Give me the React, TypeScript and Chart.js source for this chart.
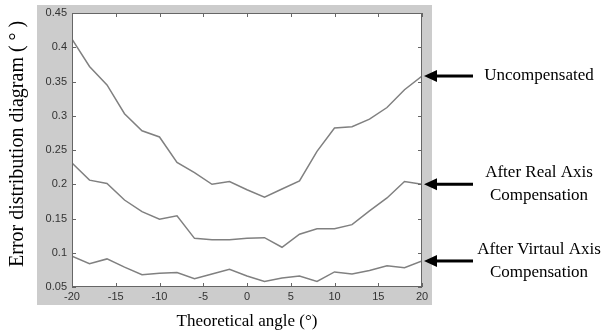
import React, { useEffect, useRef } from 'react';
import { Chart, registerables } from 'chart.js';

Chart.register(...registerables);

const angles = [-20, -18, -16, -14, -12, -10, -8, -6, -4, -2, 0, 2, 4, 6, 8, 10, 12, 14, 16, 18, 20];
const uncompensated = [0.412, 0.372, 0.345, 0.303, 0.278, 0.269, 0.232, 0.217, 0.2, 0.204, 0.192, 0.181, 0.193, 0.205, 0.248, 0.282, 0.284, 0.295, 0.312, 0.338, 0.358];
const realAxis = [0.231, 0.206, 0.201, 0.177, 0.16, 0.149, 0.154, 0.121, 0.119, 0.119, 0.121, 0.122, 0.108, 0.127, 0.135, 0.135, 0.141, 0.161, 0.18, 0.204, 0.2];
const virtualAxis = [0.095, 0.084, 0.091, 0.079, 0.068, 0.07, 0.071, 0.062, 0.069, 0.076, 0.066, 0.058, 0.063, 0.066, 0.058, 0.072, 0.069, 0.074, 0.081, 0.078, 0.088];

const xTicks = [-20, -15, -10, -5, 0, 5, 10, 15, 20];
const yTicks = [0.05, 0.1, 0.15, 0.2, 0.25, 0.3, 0.35, 0.4, 0.45];

const xTitle = 'Theoretical angle (°)';
const yTitle = 'Error distribution diagram ( ° )';

const labelUncomp = ['Uncompensated'];
const labelReal = ['After Real Axis', 'Compensation'];
const labelVirtual = ['After Virtaul Axis', 'Compensation'];

const W = 607;
const H = 335;

export default function App() {
  const ref = useRef<HTMLCanvasElement | null>(null);

  useEffect(() => {
    const canvas = ref.current;
    if (!canvas) return;

    const annotations = [
      { lines: labelUncomp, series: uncompensated },
      { lines: labelReal, series: realAxis },
      { lines: labelVirtual, series: virtualAxis },
    ];

    const decor = {
      id: 'decor',
      beforeDraw(chart: any) {
        const { ctx, chartArea } = chart;
        ctx.save();
        ctx.fillStyle = '#ffffff';
        ctx.fillRect(0, 0, W, H);
        ctx.fillStyle = '#cccccc';
        ctx.fillRect(37, 5, 395, 300);
        ctx.fillStyle = '#ffffff';
        ctx.fillRect(chartArea.left, chartArea.top, chartArea.right - chartArea.left, chartArea.bottom - chartArea.top);
        ctx.restore();
      },
      afterDraw(chart: any) {
        const { ctx, chartArea, scales } = chart;
        const { left, right, top, bottom } = chartArea;
        ctx.save();
        // box
        ctx.strokeStyle = '#666666';
        ctx.lineWidth = 1;
        ctx.strokeRect(left + 0.5, top + 0.5, right - left - 1, bottom - top - 1);
        // inward ticks
        const tl = 4;
        ctx.beginPath();
        xTicks.forEach((v) => {
          const x = Math.round(scales.x.getPixelForValue(v)) + 0.5;
          ctx.moveTo(x, bottom);
          ctx.lineTo(x, bottom - tl);
          ctx.moveTo(x, top);
          ctx.lineTo(x, top + tl);
        });
        yTicks.forEach((v) => {
          const y = Math.round(scales.y.getPixelForValue(v)) + 0.5;
          ctx.moveTo(left, y);
          ctx.lineTo(left + tl, y);
          ctx.moveTo(right, y);
          ctx.lineTo(right - tl, y);
        });
        ctx.stroke();

        // y title
        ctx.fillStyle = '#000000';
        ctx.font = '20px "Liberation Serif", serif';
        ctx.textAlign = 'left';
        ctx.textBaseline = 'middle';
        ctx.save();
        ctx.translate(18, 267);
        ctx.rotate(-Math.PI / 2);
        ctx.fillText(yTitle, 0, 0);
        ctx.restore();

        // annotations with arrows
        annotations.forEach((a) => {
          const yv = a.series[a.series.length - 1];
          const y = scales.y.getPixelForValue(yv);
          const tip = right + 2;
          ctx.fillStyle = '#000000';
          ctx.beginPath();
          ctx.moveTo(tip, y);
          ctx.lineTo(tip + 13, y - 6);
          ctx.lineTo(tip + 13, y + 6);
          ctx.closePath();
          ctx.fill();
          ctx.fillRect(tip + 12, y - 1.5, 37, 3);
          ctx.font = '17px "Liberation Serif", serif';
          ctx.textAlign = 'center';
          ctx.textBaseline = 'middle';
          const n = a.lines.length;
          a.lines.forEach((t, i) => {
            const off = (i - (n - 1) / 2) * 22.5;
            ctx.fillText(t, 539, y + off);
          });
        });
        ctx.restore();
      },
    };

    const chart = new Chart(canvas, {
      type: 'line',
      data: {
        datasets: [
          { label: 'Uncompensated', data: angles.map((a, i) => ({ x: a, y: uncompensated[i] })) },
          { label: 'After Real Axis Compensation', data: angles.map((a, i) => ({ x: a, y: realAxis[i] })) },
          { label: 'After Virtaul Axis Compensation', data: angles.map((a, i) => ({ x: a, y: virtualAxis[i] })) },
        ].map((d) => ({
          ...d,
          borderColor: '#808080',
          backgroundColor: '#808080',
          borderWidth: 1.5,
          pointRadius: 0,
          tension: 0,
          fill: false,
        })),
      },
      options: {
        responsive: false,
        animation: false,
        maintainAspectRatio: false,
        layout: { padding: { left: 0, top: 13, right: W - 422, bottom: 0 } },
        plugins: { legend: { display: false }, tooltip: { enabled: false } },
        scales: {
          x: {
            type: 'linear',
            min: -20,
            max: 20,
            afterBuildTicks: (s: any) => {
              s.ticks = xTicks.map((v) => ({ value: v }));
            },
            afterFit: (s: any) => {
              s.height = H - 287;
            },
            grid: { display: false, drawTicks: false },
            border: { display: false },
            ticks: {
              color: '#333333',
              font: { family: '"Liberation Sans", Arial, sans-serif', size: 11 },
              padding: 3,
              maxRotation: 0,
              autoSkip: false,
              callback: (v: any) => String(v),
            },
            title: {
              display: true,
              text: xTitle,
              color: '#000000',
              font: { family: '"Liberation Serif", serif', size: 17 },
              padding: { top: 0, bottom: 3 },
            },
          },
          y: {
            type: 'linear',
            min: 0.05,
            max: 0.45,
            afterBuildTicks: (s: any) => {
              s.ticks = yTicks.map((v) => ({ value: v }));
            },
            afterFit: (s: any) => {
              s.width = 72;
            },
            grid: { display: false, drawTicks: false },
            border: { display: false },
            ticks: {
              color: '#333333',
              font: { family: '"Liberation Sans", Arial, sans-serif', size: 11 },
              padding: 5,
              autoSkip: false,
              callback: (v: any) => String(Number(Number(v).toFixed(2))),
            },
          },
        },
      },
      plugins: [decor],
    });

    return () => chart.destroy();
  }, []);

  return (
    <div style={{ position: 'fixed', left: 0, top: 0, width: W, height: H, background: '#ffffff' }}>
      <canvas ref={ref} width={W} height={H} style={{ width: W, height: H, display: 'block' }} />
    </div>
  );
}
